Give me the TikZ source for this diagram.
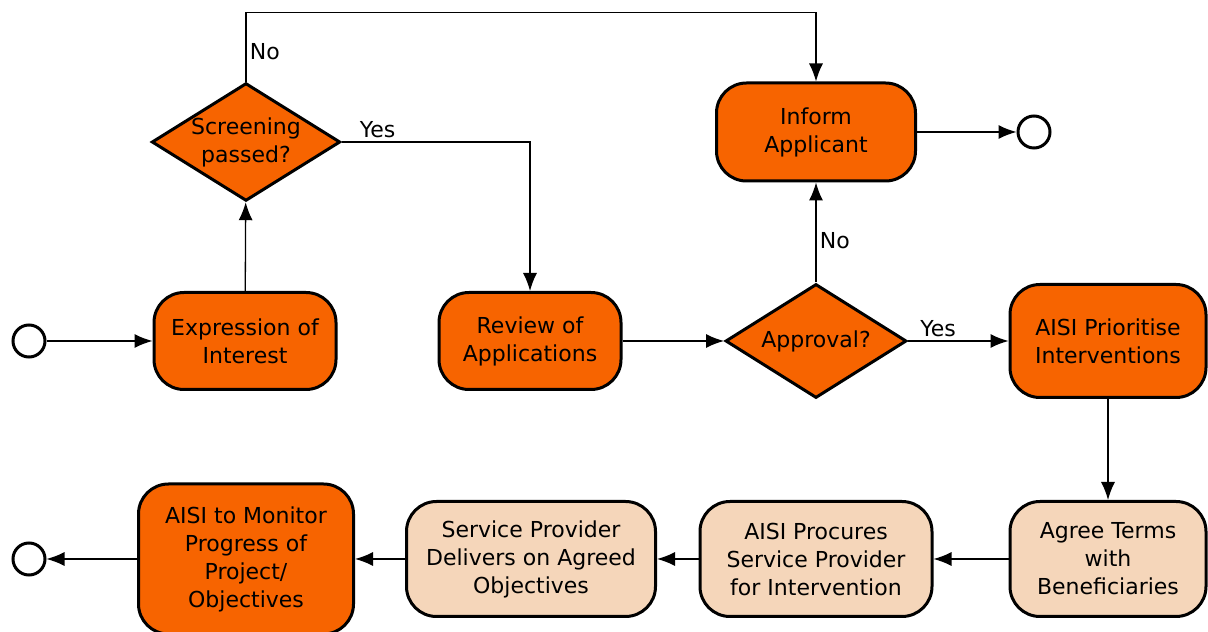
\documentclass[tikz,border=0pt]{standalone}
\usepackage{fontspec}
\setmainfont{DejaVu Sans}
\usetikzlibrary{shapes.geometric,arrows.meta}
\definecolor{taskorange}{RGB}{247,100,0}
\definecolor{taskpeach}{RGB}{245,214,186}

\begin{document}
\begin{tikzpicture}[
  x=1pt,y=1pt,
  every node/.style={
    font=\fontsize{22}{28}\selectfont,
    align=center,
  },
  task/.style={draw,rectangle,rounded corners=30pt,line width=3pt,fill=taskorange},
  subtask/.style={draw,rectangle,rounded corners=30pt,line width=3pt,fill=taskpeach},
  decision/.style={draw,diamond,aspect=1.6,inner sep=0pt,line width=3pt,fill=taskorange},
  event/.style={draw,circle,minimum size=32pt,inner sep=0pt,line width=3pt,fill=white},
  flow/.style={draw,line width=1.3pt,-{Latex[length=18pt,width=14pt]}},
]
\useasboundingbox (0,0) rectangle (1208,632);

\node[event] at (29,291) (start) {};
\node[task,minimum width=182pt,minimum height=97pt] at (245,291) (interest) {Expression of\\Interest};
\node[decision,minimum width=182pt,minimum height=113pt] at (246,490) (screening) {Screening\\passed?};
\node[task,minimum width=182pt,minimum height=97pt] at (530,291) (review) {Review of\\Applications};
\node[decision,minimum width=181pt,minimum height=114pt] at (816,291) (approval) {Approval?};
\node[task,minimum width=196pt,minimum height=113pt] at (1108,291) (prioritise) {AISI Prioritise\\Interventions};
\node[task,minimum width=199pt,minimum height=98pt] at (816,500) (inform) {Inform\\Applicant};
\node[event] at (1034,500) (endinform) {};

\node[subtask,minimum width=196pt,minimum height=115pt] at (1108,73) (agree) {Agree Terms\\with\\Beneficiaries};
\node[subtask,minimum width=232pt,minimum height=115pt] at (816,73) (procure) {AISI Procures\\Service Provider\\for Intervention};
\node[subtask,minimum width=249pt,minimum height=115pt] at (531,73) (deliver) {Service Provider\\Delivers on Agreed\\Objectives};
\node[task,minimum width=215pt,minimum height=150pt] at (246,73) (monitor) {AISI to Monitor\\Progress of\\Project/\\Objectives};
\node[event] at (29,73) (endmonitor) {};

\path[flow] (start) -- (interest);
\path[flow] (interest) -- (screening);
\path[flow] (screening.north) -- node[right,pos=0.43] {No} ++(0,69) -| (inform.north);
\path[flow] (screening.east) -| node[above,pos=0.095] {Yes} (review.north);
\path[flow] (review) -- (approval);
\path[flow] (approval) -- node[right,pos=0.415] {No} (inform);
\path[flow] (approval) -- node[above,pos=0.3] {Yes} (prioritise);
\path[flow] (inform) -- (endinform);
\path[flow] (prioritise) -- (agree);
\path[flow] (agree) -- (procure);
\path[flow] (procure) -- (deliver);
\path[flow] (deliver) -- (monitor);
\path[flow] (monitor) -- (endmonitor);
\end{tikzpicture}
\end{document}
